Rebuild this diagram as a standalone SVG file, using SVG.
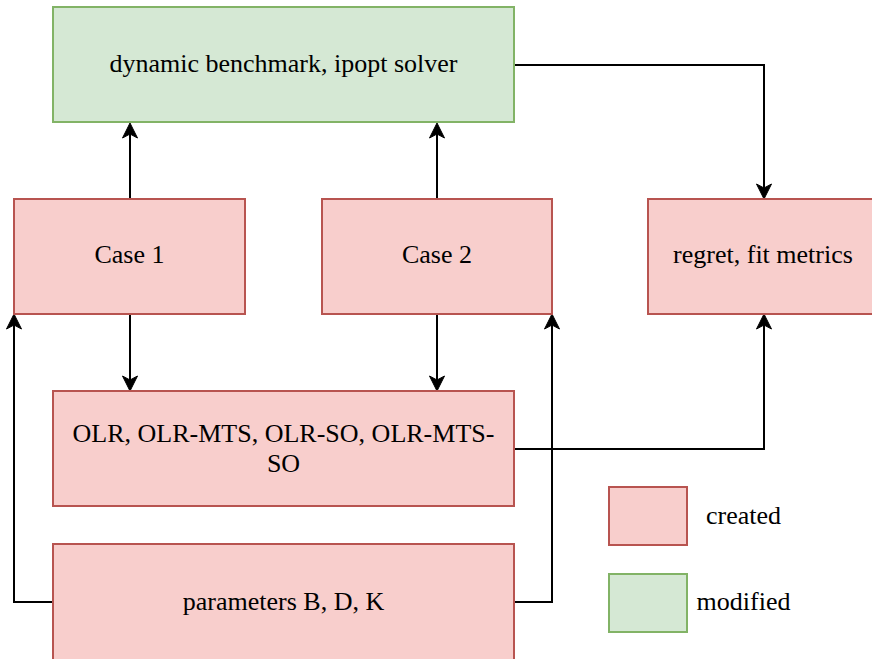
<svg xmlns="http://www.w3.org/2000/svg" width="872" height="659" viewBox="0 0 872 659">
  <style>
    .created { fill: #f8cecc; stroke: #b85450; stroke-width: 2; }
    .modified { fill: #d5e8d4; stroke: #82b366; stroke-width: 2; }
    .edge { fill: none; stroke: #000000; stroke-width: 2; }
  </style>
  <defs>
    <!-- classic drawio-style arrowhead; path ends at the notch, tip sits 11px further -->
    <marker id="arrow" markerUnits="userSpaceOnUse" viewBox="-5 -8 17 16" markerWidth="17" markerHeight="16" refX="0" refY="0" orient="auto">
      <path d="M11,0 L-4,-7.5 L0,0 L-4,7.5 Z" fill="#000000" stroke="#000000" stroke-width="1"/>
    </marker>
  </defs>

  <rect width="872" height="659" fill="#ffffff"/>

  <!-- connectors -->
  <g id="connectors">
    <path class="edge" d="M130,199 L130,134" marker-end="url(#arrow)"/>
    <path class="edge" d="M437,199 L437,134" marker-end="url(#arrow)"/>
    <path class="edge" d="M130,314 L130,380" marker-end="url(#arrow)"/>
    <path class="edge" d="M437,314 L437,380" marker-end="url(#arrow)"/>
    <path class="edge" d="M514,65 L764,65 L764,188" marker-end="url(#arrow)"/>
    <path class="edge" d="M514,449 L764,449 L764,325" marker-end="url(#arrow)"/>
    <path class="edge" d="M53,602 L14,602 L14,325" marker-end="url(#arrow)"/>
    <path class="edge" d="M514,602 L552,602 L552,325" marker-end="url(#arrow)"/>
  </g>

  <!-- nodes -->
  <g id="solver">
    <rect class="modified" x="53" y="7" width="461" height="115"/>
    <text x="283.5" y="72" font-family="Liberation Serif, serif" font-size="26" text-anchor="middle">dynamic benchmark, ipopt solver</text>
  </g>
  <g id="case1">
    <rect class="created" x="14" y="199" width="231" height="115"/>
    <text x="129.5" y="263" font-family="Liberation Serif, serif" font-size="26" text-anchor="middle">Case 1</text>
  </g>
  <g id="case2">
    <rect class="created" x="322" y="199" width="230" height="115"/>
    <text x="437" y="263" font-family="Liberation Serif, serif" font-size="26" text-anchor="middle">Case 2</text>
  </g>
  <g id="metrics">
    <rect class="created" x="648" y="199" width="231" height="115"/>
    <text x="763" y="263" font-family="Liberation Serif, serif" font-size="26" text-anchor="middle">regret, fit metrics</text>
  </g>
  <g id="methods">
    <rect class="created" x="53" y="391" width="461" height="115"/>
    <text x="283.5" y="442" font-family="Liberation Serif, serif" font-size="26" text-anchor="middle">OLR, OLR-MTS, OLR-SO, OLR-MTS-</text>
    <text x="283.5" y="472" font-family="Liberation Serif, serif" font-size="26" text-anchor="middle">SO</text>
  </g>
  <g id="parameters">
    <rect class="created" x="53" y="544" width="461" height="125"/>
    <text x="283.5" y="610" font-family="Liberation Serif, serif" font-size="26" text-anchor="middle">parameters B, D, K</text>
  </g>

  <!-- legend -->
  <g id="legend-created">
    <rect class="created" x="609" y="487" width="78" height="58"/>
    <text x="743.5" y="524" font-family="Liberation Serif, serif" font-size="26" text-anchor="middle">created</text>
  </g>
  <g id="legend-modified">
    <rect class="modified" x="609" y="574" width="78" height="58"/>
    <text x="743.5" y="610" font-family="Liberation Serif, serif" font-size="26" text-anchor="middle">modified</text>
  </g>
</svg>
